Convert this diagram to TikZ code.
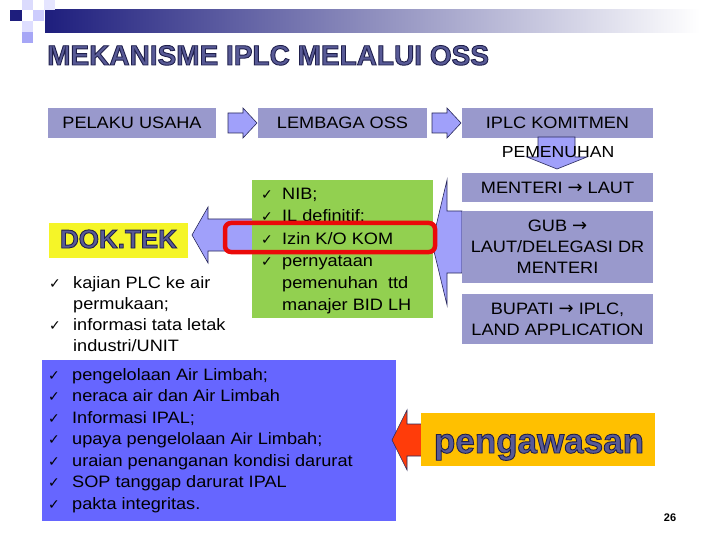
\documentclass[tikz,border=0pt]{standalone}
\usepackage{fontspec,tikz}
\setmainfont{Liberation Sans}[FakeStretch=1.1]
\newfontfamily\plainsans{Liberation Sans}
\newfontfamily\symfont{DejaVu Sans}

\definecolor{boxlilac}{RGB}{153,153,204}
\definecolor{arrowlilac}{RGB}{160,160,250}
\definecolor{arrowedge}{RGB}{40,40,90}
\definecolor{leafgreen}{RGB}{146,208,80}
\definecolor{listblue}{RGB}{102,102,255}
\definecolor{dokyellow}{RGB}{245,245,40}
\definecolor{watchorange}{RGB}{255,192,0}
\definecolor{alertred}{RGB}{255,60,10}
\definecolor{ringred}{RGB}{235,10,10}
\definecolor{slateink}{RGB}{88,90,150}
\definecolor{hdrnavy}{RGB}{30,30,125}

\newcommand{\ck}{{\symfont\fontsize{14}{14}\selectfont ✓}}
\newcommand{\arw}{{\symfont\fontsize{18}{18}\selectfont →}}
\newcommand{\outlinetext}[1]{\special{pdf:literal direct 2 Tr 0.9 w 0.12 0.12 0.3 RG}#1\special{pdf:literal direct 0 Tr}}

\begin{document}
\begin{tikzpicture}[x=1pt,y=-1pt,
  lilacbox/.style={fill=boxlilac,inner sep=0pt,align=center,font=\fontsize{16.5}{21}\selectfont},
  panel/.style={inner sep=0pt},
  blockarrow/.style={fill=arrowlilac,draw=arrowedge,line width=0.6pt,line join=miter},
  listline/.style={anchor=base west,inner sep=0pt,font=\fontsize{16.5}{19.8}\selectfont},
  checkmark/.style={anchor=base west,inner sep=0pt}]
\path[use as bounding box] (0,0) rectangle (720.0,540.0);
% header
\fill[left color=hdrnavy,right color=white] (45,10) rectangle (700,33);
\fill[hdrnavy] (10,10) rectangle (22,21);
\fill[black!6!blue!14] (22,0) rectangle (33,10);
\fill[black!4!blue!20] (33,10) rectangle (44,21);
\fill[blue!10] (44,0) rectangle (55,10);
\fill[blue!13] (22,21) rectangle (33,32);
\fill[black!10!blue!35] (22,32) rectangle (33,43);
\node[anchor=base west,inner sep=0pt,text=slateink,font=\plainsans\bfseries\fontsize{28}{32}\selectfont] (title) at (47,65) {\outlinetext{MEKANISME IPLC MELALUI OSS}};
% alur atas
\node[lilacbox,minimum width=168,minimum height=30] (pelaku) at (132,123) {PELAKU USAHA};
\node[lilacbox,minimum width=169,minimum height=30] (lembaga) at (342.5,123) {LEMBAGA OSS};
\node[lilacbox,minimum width=191,minimum height=30] (komitmen) at (557.5,123) {IPLC KOMITMEN};
\filldraw[blockarrow] (228,113) -- (243,113) -- (243,108) -- (257,123) -- (243,138) -- (243,133) -- (228,133) -- cycle;
\filldraw[blockarrow] (432,113) -- (447,113) -- (447,108) -- (461,123) -- (447,138) -- (447,133) -- (432,133) -- cycle;
\filldraw[blockarrow] (538,137) -- (575,137) -- (575,157) -- (587,157) -- (557,169) -- (527,157) -- (538,157) -- cycle;
\node[anchor=base,inner sep=0pt,font=\fontsize{16}{19}\selectfont] (pemenuhan) at (558,158) {PEMENUHAN};
% kewenangan
\filldraw[blockarrow] (462,211) -- (447,211) -- (447,180) -- (432,243) -- (447,305) -- (447,273) -- (462,273) -- cycle;
\node[lilacbox,minimum width=191,minimum height=29] (menteri) at (557.5,187.5) {MENTERI \arw{} LAUT};
\node[lilacbox,minimum width=191,minimum height=72] (gub) at (557.5,247) {GUB \arw{}\\LAUT/DELEGASI DR\\MENTERI};
\node[lilacbox,minimum width=191,minimum height=50] (bupati) at (557.5,319) {BUPATI \arw{} IPLC,\\LAND APPLICATION};
% syarat
\filldraw[blockarrow] (255,219) -- (208,219) -- (208,207) -- (192,235) -- (208,263) -- (208,251) -- (255,251) -- cycle;
\node[panel,fill=leafgreen,minimum width=181,minimum height=138] (syarat) at (342.5,249) {};
\node[checkmark] (c1) at (261,200) {\ck};
\node[listline] (s1) at (282,200) {NIB;};
\node[checkmark] (c2) at (261,222) {\ck};
\node[listline] (s2) at (282,222) {IL definitif;};
\node[checkmark] (c3) at (261,244) {\ck};
\node[listline] (s3) at (282,244) {Izin K/O KOM};
\node[checkmark] (c4) at (261,266) {\ck};
\node[listline] (s4) at (282,266) {pernyataan};
\node[listline] (s5) at (282,288) {pemenuhan \ ttd};
\node[listline] (s6) at (282,310) {manajer BID LH};
\draw[ringred,line width=4.5pt,rounded corners=6pt] (225,223) rectangle (435,252);
% dokumen teknis
\node[panel,fill=dokyellow,minimum width=139,minimum height=35] (dok) at (118.5,240.5) {};
\node[anchor=base,inner sep=0pt,text=slateink,font=\plainsans\bfseries\fontsize{26}{30}\selectfont] (doklabel) at (118.5,248) {\outlinetext{DOK.TEK}};
\node[checkmark] (d1) at (49,288) {\ck};
\node[listline] (k1) at (73,288) {kajian PLC ke air};
\node[listline] (k2) at (73,309) {permukaan;};
\node[checkmark] (d2) at (49,330) {\ck};
\node[listline] (k3) at (73,330) {informasi tata letak};
\node[listline] (k4) at (73,351) {industri/UNIT};
% air limbah
\node[panel,fill=listblue,minimum width=354,minimum height=161] (limbah) at (219,440.5) {};
\foreach \ln/\txt in {380/pengelolaan Air Limbah;,401.5/neraca air dan Air Limbah,423/Informasi IPAL;,444.5/upaya pengelolaan Air Limbah;,466/uraian penanganan kondisi darurat,487.5/SOP tanggap darurat IPAL,509/pakta integritas.}{
  \node[checkmark] at (48,\ln) {\ck};
  \node[listline] at (72,\ln) {\txt};
}
% pengawasan
\filldraw[fill=alertred,draw=arrowedge,line width=0.6pt] (422,424) -- (407,424) -- (407,410) -- (392,440) -- (407,470) -- (407,456) -- (422,456) -- cycle;
\node[panel,fill=watchorange,minimum width=234,minimum height=53] (awas) at (538,439.5) {};
\node[anchor=base,inner sep=0pt,text=slateink,font=\plainsans\bfseries\fontsize{35}{40}\selectfont] (awaslabel) at (539,453) {\outlinetext{pengawasan}};
\node[anchor=base,inner sep=0pt,font=\plainsans\bfseries\fontsize{11}{13}\selectfont] (pagenum) at (670,521) {26};
\end{tikzpicture}
\end{document}
